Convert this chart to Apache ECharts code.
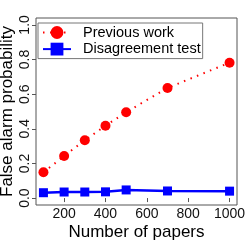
<!DOCTYPE html>
<html>
<head>
<meta charset="utf-8">
<script src="https://cdn.jsdelivr.net/npm/echarts@6/dist/echarts.min.js"></script>
<style>
html,body{margin:0;padding:0;background:#fff;}
#c{width:245px;height:245px;}
</style>
</head>
<body>
<div id="c"></div>
<script>
var papers = [100, 200, 300, 400, 500, 700, 1000];
var previousWork = [0.149, 0.243, 0.334, 0.418, 0.496, 0.636, 0.782];
var disagreementTest = [0.031, 0.035, 0.035, 0.036, 0.047, 0.041, 0.040];
var xTicks = [200, 400, 600, 800, 1000];
var yTicks = [0, 0.2, 0.4, 0.6, 0.8, 1.0];
var seriesNames = ['Previous work', 'Disagreement test'];

var FONT = 'Liberation Sans';
function pairs(xs, ys) { return xs.map(function (x, i) { return [x, ys[i]]; }); }

var chart = echarts.init(document.getElementById('c'), null, {renderer: 'canvas'});
chart.setOption({
  animation: false,
  backgroundColor: '#fff',
  grid: {
    left: 36, right: 8, top: 18, bottom: 40,
    outerBoundsMode: 'none',
    show: true, borderColor: '#555', borderWidth: 1, backgroundColor: 'transparent'
  },
  legend: {
    orient: 'vertical',
    left: 38, top: 23,
    padding: [2, 2, 2, 4],
    itemWidth: 28, itemHeight: 16, itemGap: 1.6,
    borderColor: '#777', borderWidth: 1, borderRadius: 0,
    backgroundColor: '#fff',
    textStyle: {fontFamily: FONT, fontSize: 14.5, color: '#000', padding: [0, 0, 0, 7]},
    data: seriesNames
  },
  xAxis: {
    type: 'value', min: 64, max: 1036,
    name: 'Number of papers', nameLocation: 'middle', nameGap: 19,
    nameMoveOverlap: false,
    nameTextStyle: {fontFamily: FONT, fontSize: 17, color: '#000'},
    axisLine: {show: false},
    axisTick: {show: true, inside: false, length: 4, lineStyle: {color: '#555'}, customValues: xTicks},
    axisLabel: {fontFamily: FONT, fontSize: 14, color: '#111', margin: 2, customValues: xTicks,
      formatter: function (v) { return String(v); }},
    splitLine: {show: false}
  },
  yAxis: {
    type: 'value', min: -0.04, max: 1.04,
    name: 'False alarm probability', nameLocation: 'middle', nameGap: 20, nameRotate: 90,
    nameMoveOverlap: false,
    nameTextStyle: {fontFamily: FONT, fontSize: 17, color: '#000'},
    axisLine: {show: false},
    axisTick: {show: true, inside: false, length: 4, lineStyle: {color: '#555'}, customValues: yTicks},
    axisLabel: {fontFamily: FONT, fontSize: 14, color: '#111', margin: 4, rotate: 90,
      customValues: yTicks, formatter: function (v) { return v.toFixed(1); }},
    splitLine: {show: false}
  },
  series: [
    {
      name: seriesNames[0], type: 'line', data: pairs(papers, previousWork),
      symbol: 'circle', symbolSize: 10,
      itemStyle: {color: '#ff0000'},
      lineStyle: {color: '#ff0000', width: 2, type: [1.5, 5.5]},
      z: 3
    },
    {
      name: seriesNames[1], type: 'line', data: pairs(papers, disagreementTest),
      symbol: 'rect', symbolSize: 9,
      itemStyle: {color: '#0000ff'},
      lineStyle: {color: '#0000ff', width: 2.5, type: 'solid'},
      z: 3
    }
  ]
});
</script>
</body>
</html>
